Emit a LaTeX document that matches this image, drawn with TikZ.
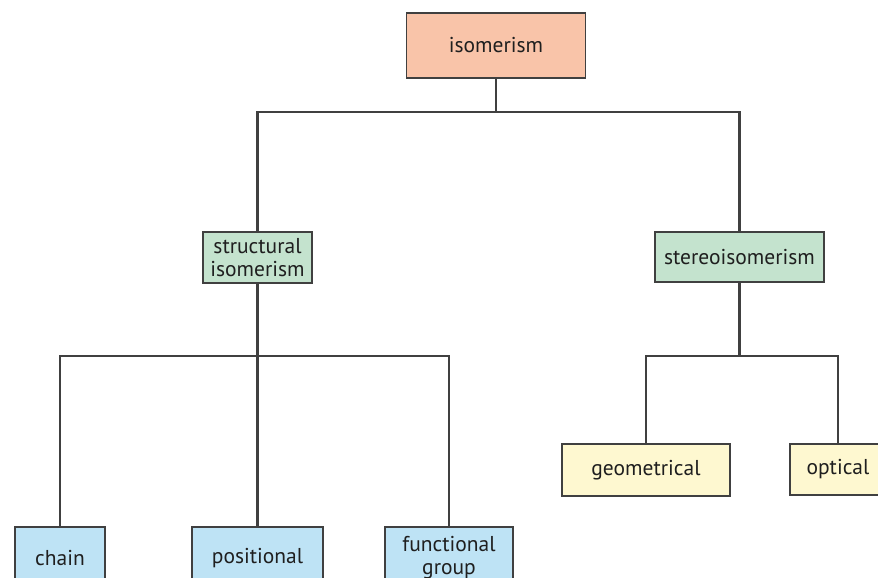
\documentclass[tikz,border=0pt]{standalone}
\usepackage{fontspec}
\setmainfont{PT Sans}
\begin{document}
\begin{tikzpicture}[x=1pt,y=-1pt,
  box/.style={draw=black!75, line width=1.5pt, rectangle, inner sep=0pt, align=center,
    text=black!88, font=\fontsize{21.5}{23}\selectfont},
  conn/.style={draw=black!75, line width=2.1pt}]
\definecolor{salmon}{HTML}{F9C4A9}
\definecolor{mint}{HTML}{C4E3CE}
\definecolor{cream}{HTML}{FEF8D0}
\definecolor{sky}{HTML}{BEE3F5}
\useasboundingbox (0,0) rectangle (878,578);
\clip (0,0) rectangle (878,578);
\node[box, fill=salmon, minimum width=179pt, minimum height=65pt] (iso) at (496,45.5) {isomerism};
\node[box, fill=mint, minimum width=109pt, minimum height=51pt] (struct) at (257.5,257.5) {structural\\isomerism};
\node[box, fill=mint, minimum width=169pt, minimum height=50pt] (stereo) at (739.5,257) {stereoisomerism};
\node[box, fill=cream, minimum width=168pt, minimum height=52pt] (geo) at (646,470) {geometrical};
\node[box, fill=cream, minimum width=96pt, minimum height=51pt] (opt) at (838,469.5) {optical};
\node[box, fill=sky, minimum width=90pt, minimum height=62pt] (chain) at (60,558) {chain};
\node[box, fill=sky, minimum width=131pt, minimum height=62pt] (pos) at (257.5,558) {positional};
\node[box, fill=sky, minimum width=128pt, minimum height=62pt] (func) at (449,558) {functional\\group};
\coordinate (b1) at (496,112);
\coordinate (b2) at (257.5,356);
\coordinate (b3) at (739.5,356);
\draw[conn] (iso.south) -- (b1);
\draw[conn] (struct.north) |- (b1) -| (stereo.north);
\draw[conn] (struct.south) -- (b2);
\draw[conn] (chain.north) |- (b2) -| (func.north);
\draw[conn] (b2) -- (pos.north);
\draw[conn] (stereo.south) -- (b3);
\draw[conn] (geo.north) |- (b3) -| (opt.north);
\end{tikzpicture}
\end{document}
